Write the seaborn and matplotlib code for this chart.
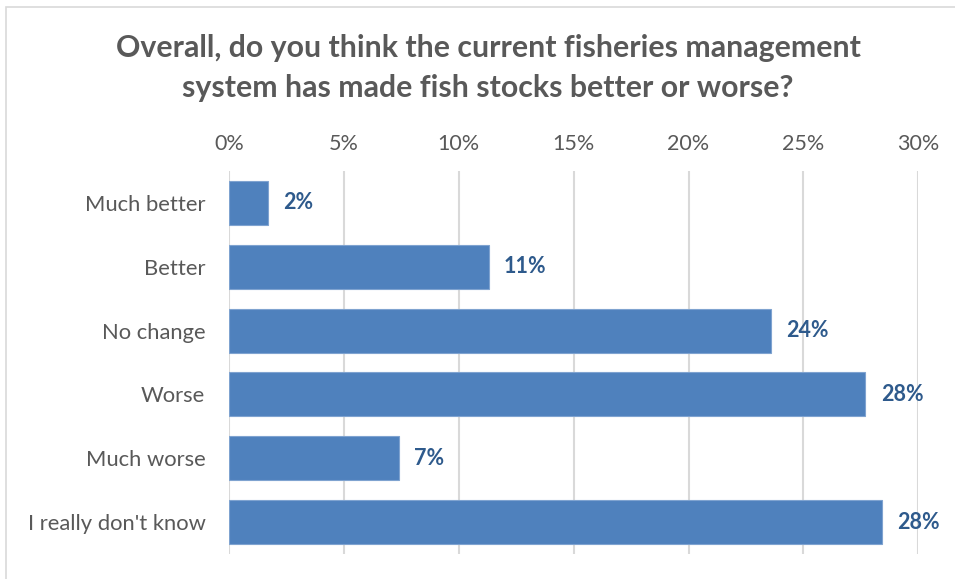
import matplotlib
matplotlib.use("Agg")
import matplotlib.pyplot as plt
import matplotlib.patches as mpatches
import seaborn as sns
import pandas as pd

# Survey responses (share of respondents, %)
categories = ["Much better", "Better", "No change", "Worse", "Much worse", "I really don't know"]
shares = [1.7, 11.3, 23.6, 27.7, 7.4, 28.4]
tick_values = [0, 5, 10, 15, 20, 25, 30]
tick_labels = ["0%", "5%", "10%", "15%", "20%", "25%", "30%"]
title = "Overall, do you think the current fisheries management\nsystem has made fish stocks better or worse?"

df = pd.DataFrame({"response": categories, "share": shares})

sns.set_theme(style="white")
plt.rcParams["font.family"] = ["Lato", "DejaVu Sans"]

TEXT = "#595959"
BAR = "#4F81BD"
LABEL = "#2E5A8C"
GRID = "#D9D9D9"

fig = plt.figure(figsize=(9.55, 5.79), dpi=100)
ax = fig.add_axes([229 / 955, 1 - 554 / 579, (918.3 - 229) / 955, (554 - 171) / 579])

sns.barplot(data=df, x="share", y="response", order=categories, orient="h",
            color=BAR, width=0.69, ax=ax, edgecolor="#7FA3D0", linewidth=0.8,
            saturation=1)

ax.set_xlim(0, 30)
ax.set_xticks(tick_values)
ax.set_xticklabels(tick_labels)
ax.xaxis.tick_top()
ax.tick_params(axis="x", length=0, pad=12, labelsize=15.5, labelcolor=TEXT)
ax.tick_params(axis="y", length=0, pad=17, labelsize=15.8, labelcolor=TEXT)
ax.set_xlabel("")
ax.set_ylabel("")
for s in ax.spines.values():
    s.set_visible(False)
ax.set_axisbelow(True)
ax.xaxis.grid(True, color=GRID, linewidth=1.5)
ax.yaxis.grid(False)

for patch, v in zip(ax.patches, shares):
    y = patch.get_y() + patch.get_height() / 2
    ax.annotate(f"{v:.0f}%", xy=(v, y), xytext=(11, 0), textcoords="offset points",
                ha="left", va="center", fontsize=15.5, fontweight="bold", color=LABEL)

fig.text(488 / 955, 1 - 68 / 579, title, ha="center", va="center", fontsize=21.8,
         fontweight="bold", color=TEXT, linespacing=1.5)

# chart frame
fig.patches.append(mpatches.Rectangle((6 / 955, -0.05), 1.2, 1 - 7 / 579 + 0.05,
                                      transform=fig.transFigure, fill=False,
                                      edgecolor="#D9D9D9", linewidth=1.2))

fig.savefig("out.png", dpi=100, facecolor="white")
